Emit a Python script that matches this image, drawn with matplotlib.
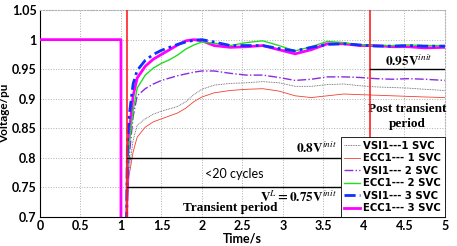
import numpy as np
import matplotlib
matplotlib.use('Agg')
import matplotlib.pyplot as plt
from matplotlib.ticker import FormatStrFormatter

plt.rcParams['mathtext.fontset'] = 'stix'

# time points after the fault clears (s)
t_post = [1.07, 1.08, 1.1, 1.15, 1.2, 1.3, 1.4, 1.5, 1.6, 1.7, 1.8, 1.9, 2.0,
          2.15, 2.35, 2.55, 2.75, 2.95, 3.15, 3.35, 3.55, 3.75, 3.95, 4.15,
          4.35, 4.55, 4.75, 5.0]
# pre-fault part of the ECC1 3 SVC trace
t_pre = [0, 1.0, 1.0]
v_pre = [1.0, 1.0, 0.69]

vsi1_1 = [0.69, 0.74, 0.78, 0.83, 0.855, 0.866, 0.874, 0.879, 0.883, 0.887, 0.895,
          0.907, 0.916, 0.923, 0.926, 0.927, 0.929, 0.927, 0.921, 0.921, 0.924,
          0.925, 0.922, 0.920, 0.919, 0.918, 0.916, 0.914]
ecc1_1 = [0.69, 0.73, 0.77, 0.81, 0.835, 0.852, 0.861, 0.866, 0.871, 0.876, 0.884,
          0.895, 0.903, 0.910, 0.914, 0.916, 0.917, 0.913, 0.905, 0.902, 0.905,
          0.908, 0.907, 0.906, 0.905, 0.904, 0.903, 0.902]
vsi1_2 = [0.69, 0.76, 0.80, 0.87, 0.905, 0.917, 0.925, 0.931, 0.935, 0.939, 0.942,
          0.945, 0.947, 0.947, 0.943, 0.940, 0.940, 0.936, 0.931, 0.933, 0.937,
          0.937, 0.936, 0.934, 0.933, 0.934, 0.933, 0.931]
ecc1_2 = [0.69, 0.78, 0.82, 0.88, 0.918, 0.940, 0.952, 0.960, 0.966, 0.974, 0.984,
          0.991, 0.996, 0.994, 0.990, 0.995, 0.998, 0.990, 0.981, 0.988, 0.997,
          0.995, 0.991, 0.990, 0.990, 0.991, 0.990, 0.990]
vsi1_3 = [0.69, 0.83, 0.87, 0.925, 0.948, 0.965, 0.975, 0.982, 0.987, 0.992, 0.996,
          0.999, 1.0, 0.996, 0.990, 0.990, 0.990, 0.985, 0.981, 0.987, 0.992,
          0.993, 0.991, 0.989, 0.989, 0.990, 0.989, 0.989]
ecc1_3 = [0.69, 0.80, 0.84, 0.905, 0.935, 0.955, 0.967, 0.975, 0.983, 0.991, 0.998,
          1.0, 0.998, 0.990, 0.987, 0.988, 0.990, 0.983, 0.976, 0.983, 0.993,
          0.993, 0.990, 0.990, 0.988, 0.988, 0.986, 0.987]

fig = plt.figure(figsize=(4.57, 2.46), dpi=100)
ax = fig.add_axes([0.0875, 0.118, 0.886, 0.841])

ax.plot(t_post, vsi1_1, color='#555555', lw=0.6, ls=(0, (1, 1)), label='VSI1---1 SVC', zorder=3)
ax.plot(t_post, ecc1_1, color='#f04030', lw=0.6, label='ECC1--- 1 SVC', zorder=3)
ax.plot(t_post, vsi1_2, color='#8a2be2', lw=1.0, ls='-.', label='VSI1--- 2 SVC', zorder=3)
ax.plot(t_post, ecc1_2, color='#22dd22', lw=1.0, label='ECC1--- 2 SVC', zorder=3.2)
ax.plot(t_post, vsi1_3, color='#1030ff', lw=2.0, ls=(0, (4, 1.5, 1, 1.5)), label='VSI1--- 3 SVC', zorder=3.4)
ax.plot(t_pre + t_post, v_pre + ecc1_3, color='#ff00ff', lw=2.0, label='ECC1--- 3 SVC', zorder=3.1)

# period markers
ax.axvline(1.07, color='#ff2020', lw=1.2, zorder=4)
ax.axvline(4.07, color='#ff2020', lw=1.2, zorder=4)
ax.plot([1.07, 3.7], [0.8, 0.8], color='black', lw=1.0, zorder=4)
ax.plot([1.07, 3.7], [0.75, 0.75], color='black', lw=1.0, zorder=4)
ax.plot([4.07, 5.0], [0.95, 0.95], color='black', lw=1.0, zorder=4)

serif = dict(family='Liberation Serif', fontweight='bold', fontsize=9.5)
ax.text(4.55, 0.952, r'$\mathbf{0.95V}^{init}$', ha='center', va='bottom', fontsize=9.5)
ax.text(4.53, 0.87, 'Post transient\nperiod', ha='center', va='center',
        linespacing=1.3, **serif)
ax.text(3.67, 0.803, r'$\mathbf{0.8V}^{init}$', ha='right', va='bottom', fontsize=9.5)
ax.text(2.4, 0.772, '<20 cycles', ha='center', va='center', fontsize=9, family='Lato')
ax.text(3.67, 0.745, r'$\mathbf{V}^{L}\mathbf{=0.75V}^{init}$', ha='right', va='top', fontsize=9.5)
ax.text(2.35, 0.715, 'Transient period', ha='center', va='center', **serif)

ax.set_xlim(0, 5)
ax.set_ylim(0.7, 1.05)
ax.set_xticks(np.arange(0, 5.01, 0.5))
ax.set_yticks(np.arange(0.7, 1.051, 0.05))
ax.xaxis.set_major_formatter(FormatStrFormatter('%g'))
ax.yaxis.set_major_formatter(FormatStrFormatter('%g'))
for lab in ax.get_xticklabels() + ax.get_yticklabels():
    lab.set_fontweight('bold')
    lab.set_fontsize(9)
    lab.set_family('Lato')
ax.tick_params(length=0, pad=2.5)
ax.grid(True, color='#b0b0b0', ls=':', lw=0.7)
for s in ['top', 'right']:
    ax.spines[s].set_color('#b0b0b0')
    ax.spines[s].set_linestyle(':')
ax.set_xlabel('Time/s', fontweight='bold', fontsize=9, family='Lato')
ax.set_ylabel('Voltage/pu', fontweight='bold', fontsize=8.5, family='Lato')
ax.xaxis.set_label_coords(0.5, -0.075)
ax.yaxis.set_label_coords(-0.074, 0.5)

leg = ax.legend(loc='lower right', bbox_to_anchor=(1, 0), borderaxespad=0,
                prop={'weight': 'bold', 'size': 7.3}, fancybox=False,
                edgecolor='black', framealpha=1, handlelength=1.6,
                handletextpad=0.3, labelspacing=0.25, borderpad=0.35)
leg.get_frame().set_linewidth(0.6)
leg.set_zorder(5)

fig.savefig('out.png', dpi=100)
